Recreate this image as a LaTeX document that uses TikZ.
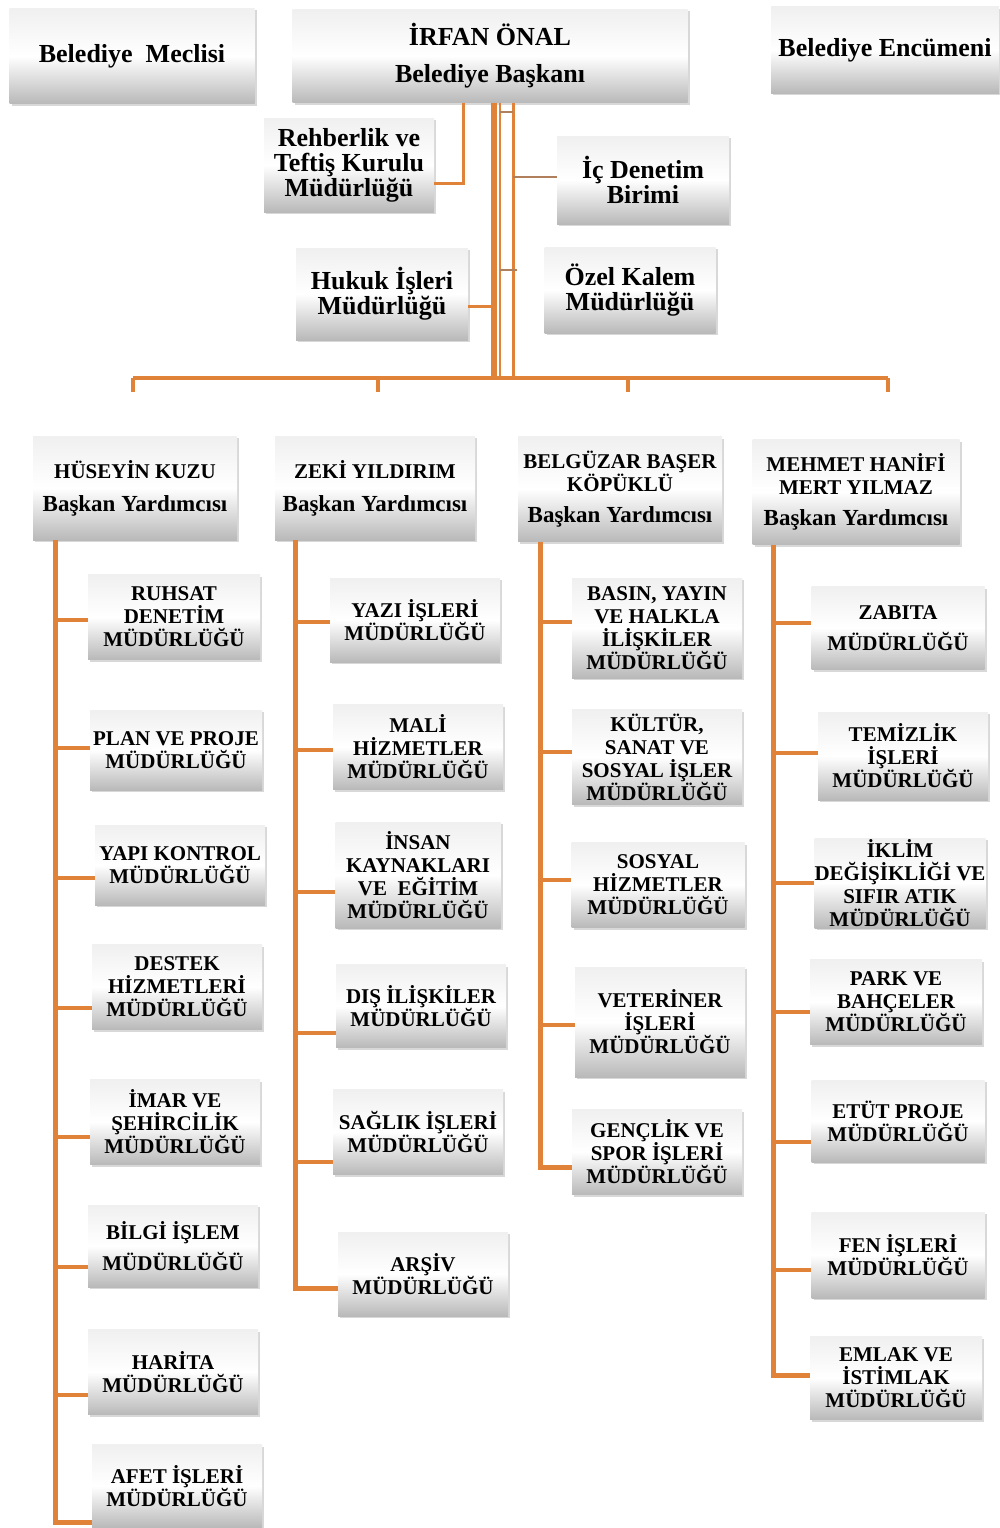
\documentclass[tikz,border=0pt]{standalone}
\usepackage{fontspec}
\setmainfont{Liberation Serif}
\usepackage{tikz}
\usetikzlibrary{shadows}
\definecolor{linkorange}{RGB}{224,130,56}
\definecolor{linkbrown}{RGB}{176,128,92}
\newcommand{\yrd}{{\fontsize{23}{25}\selectfont Başkan Yardımcısı}}

\begin{document}
\begin{tikzpicture}[x=1pt,y=-1pt]
\tikzstyle{kutu}=[inner sep=0pt, align=center, top color=gray!12, bottom color=gray!55, middle color=white, drop shadow={shadow xshift=2pt,shadow yshift=-2pt,opacity=.3}]
\tikzstyle{ust}=[kutu, font=\fontsize{26}{25}\selectfont\bfseries]
\tikzstyle{yard}=[kutu, minimum width=204, minimum height=104, font=\fontsize{21}{23}\selectfont\bfseries]
\tikzstyle{birim}=[kutu, minimum width=170, minimum height=85, font=\fontsize{21}{23}\selectfont\bfseries]
\tikzstyle{link}=[draw=linkorange, line width=4pt]
\tikzstyle{kol}=[draw=linkorange, line width=5pt]
\tikzstyle{ince}=[draw=linkbrown, line width=2pt]
\fill [white] (0,0) rectangle (999,1528);
\useasboundingbox (0,0) rectangle (999,1528);
% top row
\draw (132,56) node [ust, minimum width=245, minimum height=95] (meclis) {Belediye\ \ Meclisi};
\draw (490,56) node [ust, minimum width=395, minimum height=93] (baskan) {İRFAN ÖNAL\\[12pt]Belediye Başkanı};
\draw (885,50) node [ust, minimum width=228, minimum height=86] (encumen) {Belediye Encümeni};
\draw (349,165) node [ust, minimum width=170, minimum height=94] (rehber) {Rehberlik ve\\Teftiş Kurulu\\Müdürlüğü};
\draw (643,180) node [ust, minimum width=172, minimum height=88] (icdenetim) {İç Denetim\\Birimi};
\draw (382,294) node [ust, minimum width=172, minimum height=92] (hukuk) {Hukuk İşleri\\Müdürlüğü};
\draw (630,290) node [ust, minimum width=171, minimum height=86] (ozel) {Özel Kalem\\Müdürlüğü};
\coordinate (r1) at (463,0);
\coordinate (t1) at (494,378);
\coordinate (t2) at (500,378);
\coordinate (t3) at (513,378);
\draw [link, line width=6pt] (baskan.south -| t1) -- (t1);
\draw [link, line width=2.5pt] (baskan.south -| t2) -- (t2);
\draw [link, line width=3pt] (baskan.south -| t3) -- (t3);
\draw [ince] ([yshift=-9]baskan.south -| t2) -- ([yshift=-9]baskan.south -| t3);
\draw [link, line width=3pt] (baskan.south -| r1) |- ([yshift=-18]rehber.east);
\draw [ince] ([yshift=3]icdenetim.west -| t3) -- ([yshift=3]icdenetim.west);
\draw [link, line width=3pt] ([yshift=-12]hukuk.east) -- ([yshift=-12]hukuk.east -| t1);
\draw [ince] ([yshift=20]ozel.west -| t2) -- ([yshift=20,xshift=-27]ozel.west);
% vice presidents
\draw (135,488) node [yard] (vp1) {HÜSEYİN KUZU\\[10pt]\yrd};
\draw (375,488) node [yard, minimum width=200] (vp2) {ZEKİ YILDIRIM\\[10pt]\yrd};
\draw (620,489) node [yard, minimum height=105] (vp3) {BELGÜZAR BAŞER\\KÖPÜKLÜ\\[8pt]\yrd};
\draw (856,492) node [yard, minimum width=207, minimum height=105] (vp4) {MEHMET HANİFİ\\MERT YILMAZ\\[8pt]\yrd};
\coordinate (d1) at (133,378);
\coordinate (d2) at (378,378);
\coordinate (d3) at (628,378);
\coordinate (d4) at (888,378);
\draw [link] (d1) -- (d4);
\draw [link] (d1) -- ++(0,14);
\draw [link] (d2) -- ++(0,14);
\draw [link] (d3) -- ++(0,14);
\draw [link] (d4) -- ++(0,14);
% column 1
\draw (174,617) node [birim, minimum width=172] (ruhsat) {RUHSAT\\DENETİM\\MÜDÜRLÜĞÜ};
\draw (176,750) node [birim, minimum width=172, minimum height=80] (plan) {PLAN VE PROJE\\MÜDÜRLÜĞÜ};
\draw (180,865) node [birim, minimum height=80] (yapi) {YAPI KONTROL\\MÜDÜRLÜĞÜ};
\draw (177,987) node [birim] (destek) {DESTEK\\HİZMETLERİ\\MÜDÜRLÜĞÜ};
\draw (175,1122) node [birim] (imar) {İMAR VE\\ŞEHİRCİLİK\\MÜDÜRLÜĞÜ};
\draw (173,1246) node [birim, minimum height=82] (bilgi) {BİLGİ İŞLEM\\[8pt]MÜDÜRLÜĞÜ};
\draw (173,1372) node [birim] (harita) {HARİTA\\MÜDÜRLÜĞÜ};
\draw (177,1486) node [birim, minimum height=83] (afet) {AFET İŞLERİ\\MÜDÜRLÜĞÜ};
\coordinate (c1) at (55,0);
\draw [kol] (vp1.south -| c1) -- ([yshift=-36]afet.west -| c1) -- ([yshift=-36]afet.west);
\draw [link] ([yshift=-3]ruhsat.west -| c1) -- ([yshift=-3]ruhsat.west);
\draw [link] ([yshift=2]plan.west -| c1) -- ([yshift=2]plan.west);
\draw [link] ([yshift=-13]yapi.west -| c1) -- ([yshift=-13]yapi.west);
\draw [link] ([yshift=-21]destek.west -| c1) -- ([yshift=-21]destek.west);
\draw [link] ([yshift=-15]imar.west -| c1) -- ([yshift=-15]imar.west);
\draw [link] ([yshift=-21]bilgi.west -| c1) -- ([yshift=-21]bilgi.west);
\draw [link] ([yshift=-23]harita.west -| c1) -- ([yshift=-23]harita.west);
% column 2
\draw (415,620) node [birim, minimum height=84] (yazi) {YAZI İŞLERİ\\MÜDÜRLÜĞÜ};
\draw (418,747) node [birim] (mali) {MALİ\\HİZMETLER\\MÜDÜRLÜĞÜ};
\draw (418,875) node [birim, minimum width=165, minimum height=106] (insan) {İNSAN\\KAYNAKLARI\\VE\ \ EĞİTİM\\MÜDÜRLÜĞÜ};
\draw (421,1006) node [birim, minimum height=83] (dis) {DIŞ İLİŞKİLER\\MÜDÜRLÜĞÜ};
\draw (418,1132) node [birim] (saglik) {SAĞLIK İŞLERİ\\MÜDÜRLÜĞÜ};
\draw (423,1274) node [birim, minimum height=84] (arsiv) {ARŞİV\\MÜDÜRLÜĞÜ};
\coordinate (c2) at (295,0);
\draw [kol] (vp2.south -| c2) -- ([yshift=-14]arsiv.west -| c2) -- ([yshift=-14]arsiv.west);
\draw [link] ([yshift=-2]yazi.west -| c2) -- ([yshift=-2]yazi.west);
\draw [link] ([yshift=-3]mali.west -| c2) -- ([yshift=-3]mali.west);
\draw [link] ([yshift=-17]insan.west -| c2) -- ([yshift=-17]insan.west);
\draw [link] ([yshift=-27]dis.west -| c2) -- ([yshift=-27]dis.west);
\draw [link] ([yshift=-30]saglik.west -| c2) -- ([yshift=-30]saglik.west);
% column 3
\draw (657,628) node [birim, minimum height=100] (basin) {BASIN, YAYIN\\VE HALKLA\\İLİŞKİLER\\MÜDÜRLÜĞÜ};
\draw (657,757) node [birim, minimum height=95] (kultur) {KÜLTÜR,\\SANAT VE\\SOSYAL İŞLER\\MÜDÜRLÜĞÜ};
\draw (658,885) node [birim, minimum width=173] (sosyal) {SOSYAL\\HİZMETLER\\MÜDÜRLÜĞÜ};
\draw (660,1022) node [birim, minimum height=110] (veteriner) {VETERİNER\\İŞLERİ\\MÜDÜRLÜĞÜ};
\draw (657,1152) node [birim] (genclik) {GENÇLİK VE\\SPOR İŞLERİ\\MÜDÜRLÜĞÜ};
\coordinate (c3) at (540,0);
\draw [kol] (vp3.south -| c3) -- ([yshift=-15]genclik.west -| c3) -- ([yshift=-15]genclik.west);
\draw [link] ([yshift=6]basin.west -| c3) -- ([yshift=6]basin.west);
\draw [link] ([yshift=5]kultur.west -| c3) -- ([yshift=5]kultur.west);
\draw [link] ([yshift=5]sosyal.west -| c3) -- ([yshift=5]sosyal.west);
\draw [link] ([yshift=-3]veteriner.west -| c3) -- ([yshift=-3]veteriner.west);
% column 4
\draw (898,628) node [birim, minimum width=173, minimum height=83] (zabita) {ZABITA\\[8pt]MÜDÜRLÜĞÜ};
\draw (903,756) node [birim, minimum height=88] (temizlik) {TEMİZLİK\\İŞLERİ\\MÜDÜRLÜĞÜ};
\draw (900,883) node [birim, minimum height=90] (iklim) {İKLİM\\DEĞİŞİKLİĞİ VE\\SIFIR ATIK\\MÜDÜRLÜĞÜ};
\draw (896,1002) node [birim, minimum width=172] (park) {PARK VE\\BAHÇELER\\MÜDÜRLÜĞÜ};
\draw (898,1121) node [birim, minimum width=173, minimum height=82] (etut) {ETÜT PROJE\\MÜDÜRLÜĞÜ};
\draw (898,1255) node [birim, minimum width=173, minimum height=86] (fen) {FEN İŞLERİ\\MÜDÜRLÜĞÜ};
\draw (896,1378) node [birim, minimum width=172, minimum height=83] (emlak) {EMLAK VE\\İSTİMLAK\\MÜDÜRLÜĞÜ};
\coordinate (c4) at (773,0);
\draw [kol] (vp4.south -| c4) -- ([yshift=3]emlak.west -| c4) -- ([yshift=3]emlak.west);
\draw [link] ([yshift=5]zabita.west -| c4) -- ([yshift=5]zabita.west);
\draw [link] ([yshift=3]temizlik.west -| c4) -- ([yshift=3]temizlik.west);
\draw [link] (iklim.west -| c4) -- (iklim.west);
\draw [link] ([yshift=-10]park.west -| c4) -- ([yshift=-10]park.west);
\draw [link] ([yshift=-21]etut.west -| c4) -- ([yshift=-21]etut.west);
\draw [link] ([yshift=-15]fen.west -| c4) -- ([yshift=-15]fen.west);
\end{tikzpicture}
\end{document}
